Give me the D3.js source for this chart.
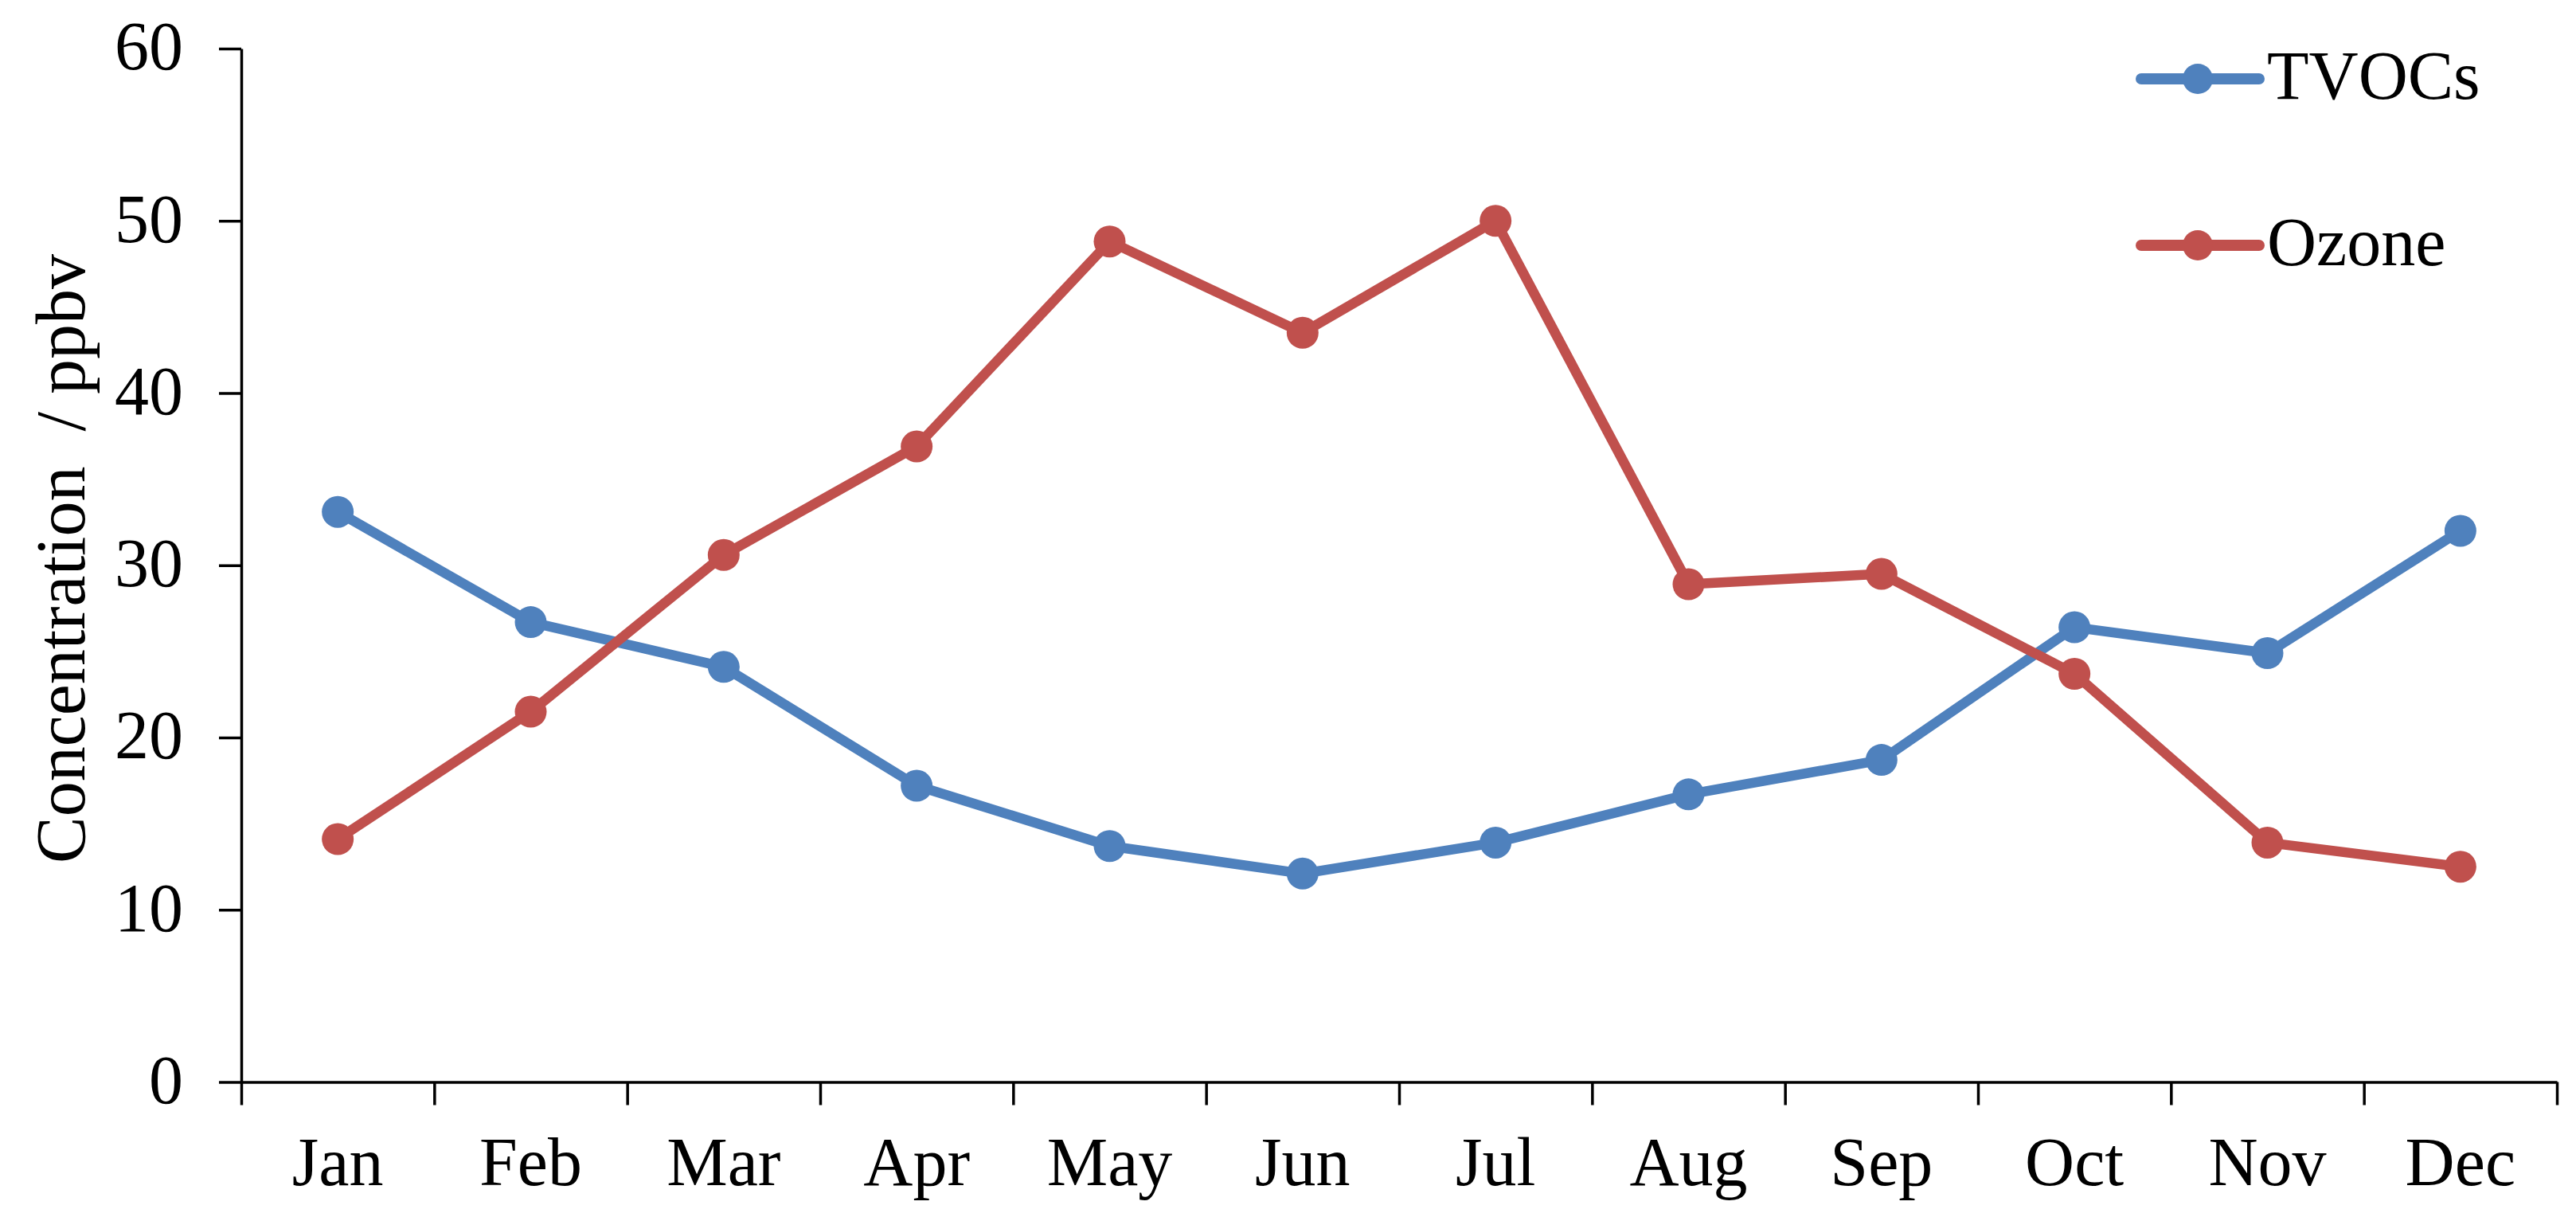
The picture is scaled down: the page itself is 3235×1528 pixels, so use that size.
<!DOCTYPE html>
<html>
<head>
<meta charset="utf-8">
<script src="https://cdn.jsdelivr.net/npm/d3@7"></script>
<style>
  body { margin: 0; background: #fff; }
  svg text { font-family: "Liberation Serif", "Times New Roman", serif; fill: #000; }
</style>
</head>
<body>
<div id="chart"></div>
<script>
var months = ["Jan", "Feb", "Mar", "Apr", "May", "Jun", "Jul", "Aug", "Sep", "Oct", "Nov", "Dec"]
var tvocs = [33.1, 26.7, 24.1, 17.2, 13.7, 12.1, 13.9, 16.7, 18.7, 26.4, 24.9, 32.0]
var ozone = [14.1, 21.5, 30.6, 36.9, 48.8, 43.5, 50.0, 28.9, 29.5, 23.7, 13.9, 12.5]
var yTicks = [0, 10, 20, 30, 40, 50, 60]
var seriesNames = ["TVOCs", "Ozone"]
var seriesColors = ["#4F81BD", "#C0504D"]
var yTitle = "Concentration \u00a0/ ppbv"

var width = 3235
var height = 1528
var margin = { top: 61, right: 24, bottom: 170, left: 303 }
var plotBottom = height - margin.bottom

var svg = d3.select("#chart")
  .append("svg")
  .attr("width", width)
  .attr("height", height)

var x = d3.scaleBand()
  .domain(months)
  .range([margin.left, width - margin.right])

var y = d3.scaleLinear()
  .domain([0, 60])
  .range([plotBottom + 0.5, margin.top])

// boundaries between months carry the ticks, like Excel category axes
var xEdges = d3.scaleLinear()
  .domain([0, months.length])
  .range(x.range())

// Y axis
var yAxis = svg.append("g")
  .attr("transform", "translate(" + margin.left + ",0)")
  .call(d3.axisLeft(y).tickValues(yTicks).tickSize(28).tickSizeOuter(0).tickPadding(45))
yAxis.select(".domain").attr("stroke-width", 3.5)
yAxis.selectAll(".tick line").attr("stroke-width", 3.5)
yAxis.selectAll("text").style("font-size", "86px").attr("dy", "0.30em")

// X axis line and ticks
var xAxis = svg.append("g")
  .attr("transform", "translate(0," + y(0) + ")")
  .call(d3.axisBottom(xEdges).ticks(months.length).tickSize(29).tickSizeOuter(0).tickFormat(""))
xAxis.select(".domain").attr("stroke-width", 3.5)
xAxis.selectAll(".tick line").attr("stroke-width", 3.5)

// X labels at month centres
var xLabels = svg.append("g")
  .attr("transform", "translate(0," + y(0) + ")")
  .call(d3.axisBottom(x).tickSize(0))
xLabels.select(".domain").remove()
xLabels.selectAll("text")
  .style("font-size", "86px")
  .attr("y", 129)
  .attr("dy", 0)

// Y title
svg.append("text")
  .attr("transform", "translate(106," + ((margin.top + plotBottom) / 2 - 8) + ") rotate(-90)")
  .attr("text-anchor", "middle")
  .style("font-size", "88px")
  .text(yTitle)

var line = d3.line()
  .x(function(d, i) { return x(months[i]) + x.bandwidth() / 2 })
  .y(function(d) { return y(d) })

var series = [tvocs, ozone]

series.forEach(function(values, s) {
  svg.append("path")
    .datum(values)
    .attr("fill", "none")
    .attr("stroke", seriesColors[s])
    .attr("stroke-width", 12.5)
    .attr("stroke-linejoin", "round")
    .attr("d", line)

  svg.selectAll(".dot-" + s)
    .data(values)
    .enter().append("circle")
    .attr("class", "dot-" + s)
    .attr("cx", function(d, i) { return x(months[i]) + x.bandwidth() / 2 })
    .attr("cy", function(d) { return y(d) })
    .attr("r", 20)
    .attr("fill", seriesColors[s])
})

// Legend
var legend = svg.append("g")
  .attr("transform", "translate(2689,99)")

var legendItem = legend.selectAll(".legend-item")
  .data(seriesNames)
  .enter().append("g")
  .attr("class", "legend-item")
  .attr("transform", function(d, i) { return "translate(0," + (i * 209) + ")" })

legendItem.append("line")
  .attr("x1", 0)
  .attr("x2", 148)
  .attr("stroke", function(d, i) { return seriesColors[i] })
  .attr("stroke-width", 14)
  .attr("stroke-linecap", "round")

legendItem.append("circle")
  .attr("cx", 71)
  .attr("r", 19)
  .attr("fill", function(d, i) { return seriesColors[i] })

legendItem.append("text")
  .attr("x", 158)
  .attr("y", 25)
  .style("font-size", "86px")
  .text(function(d) { return d })
</script>
</body>
</html>
